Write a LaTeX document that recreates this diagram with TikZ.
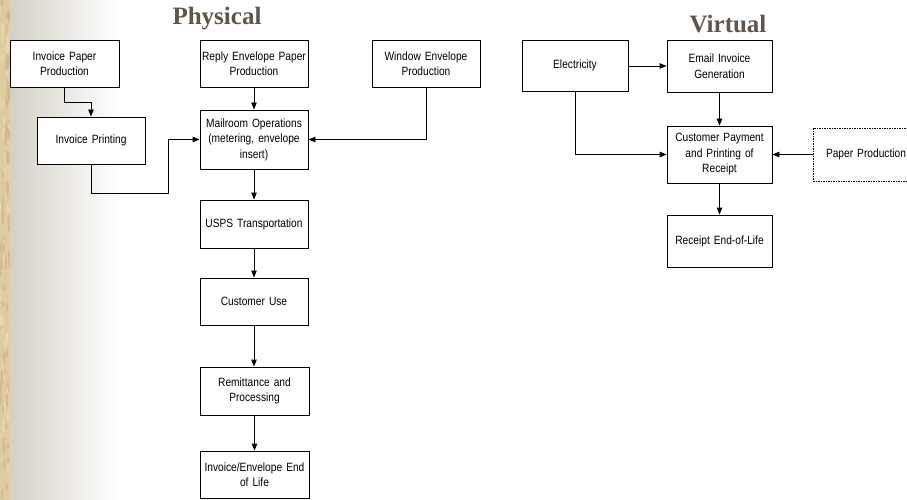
\documentclass[tikz,border=0pt]{standalone}
\usepackage{fontspec}
\setmainfont{Liberation Sans}[FakeStretch=0.85]
\newfontfamily\titlefont{Liberation Serif}
\usetikzlibrary{arrows.meta}
\definecolor{titlecol}{RGB}{94,86,75}
\definecolor{parch}{RGB}{224,202,160}
\definecolor{parchdark}{RGB}{208,182,136}
\definecolor{parchlight}{RGB}{234,216,184}
\definecolor{fadegray}{RGB}{212,208,198}
\tikzset{
  box/.style={draw=black, line width=0.9pt, fill=white, rectangle, align=center,
    inner sep=2pt, font=\fontsize{12}{15.5}\selectfont},
  dbox/.style={box, dashed, dash pattern=on 1.5pt off 1pt},
  arr/.style={draw=black, line width=0.9pt, -{Triangle[length=7pt,width=5.5pt]}},
  ttl/.style={font=\titlefont\fontsize{25}{28}\selectfont\bfseries, text=titlecol, anchor=base, inner sep=0pt}
}
\begin{document}
\begin{tikzpicture}[x=1pt,y=-1pt]
\useasboundingbox (0,0) rectangle (907,500);
% background
\fill[white] (0,0) rectangle (907,500);
\shade[left color=fadegray, right color=white] (10,0) rectangle (118,500);
\fill[parch] (0,0) rectangle (10,500);
\pgfmathsetseed{7}
\foreach \i in {1,...,120} {
  \pgfmathsetmacro{\yy}{rnd*500}
  \pgfmathsetmacro{\xx}{rnd*10}
  \pgfmathsetmacro{\ll}{2+rnd*8}
  \pgfmathsetmacro{\cc}{rnd>0.5 ? 1 : 0}
  \ifdim\cc pt>0.5pt
    \fill[parchdark, opacity=0.7] (\xx,\yy) ellipse (1.2pt and \ll pt);
  \else
    \fill[parchlight, opacity=0.7] (\xx,\yy) ellipse (1pt and \ll pt);
  \fi
}
\fill[fadegray] (10,0) rectangle (10.6,500);
% titles
\node[ttl] (tphys) at (217,25) {Physical};
\node[ttl] (tvirt) at (728,33) {Virtual};
% physical nodes
\node[box, minimum width=109pt, minimum height=47pt, text width=104pt] (ipp) at (64.5,63.5) {Invoice Paper\\Production};
\node[box, minimum width=108pt, minimum height=47pt, text width=104pt] (ip) at (91,140.5) {Invoice Printing};
\node[box, minimum width=108pt, minimum height=47pt, text width=104pt] (rep) at (254,63.5) {Reply Envelope Paper\\Production};
\node[box, minimum width=108pt, minimum height=59pt, text width=104pt] (mail) at (254,139.5) {Mailroom Operations\\(metering, envelope\\insert)};
\node[box, minimum width=108pt, minimum height=47pt, text width=104pt] (wep) at (426,63.5) {Window Envelope\\Production};
\node[box, minimum width=108pt, minimum height=48pt, text width=104pt] (usps) at (254,224) {USPS Transportation};
\node[box, minimum width=108pt, minimum height=47pt, text width=104pt] (cu) at (254,301.5) {Customer Use};
\node[box, minimum width=109pt, minimum height=48pt, text width=104pt] (rp) at (254.5,391) {Remittance and\\Processing};
\node[box, minimum width=109pt, minimum height=47pt, text width=104pt] (eol) at (254.5,474.5) {Invoice/Envelope End\\of Life};
% virtual nodes
\node[box, minimum width=106pt, minimum height=51pt, text width=100pt] (elec) at (575,65.5) {Electricity};
\node[box, minimum width=105pt, minimum height=52pt, text width=100pt] (email) at (719.5,66) {Email Invoice\\Generation};
\node[box, minimum width=105pt, minimum height=57pt, text width=100pt] (cpay) at (719.5,154.5) {Customer Payment\\and Printing of\\Receipt};
\node[dbox, minimum width=106pt, minimum height=53pt, text width=100pt] (pp) at (866,154.5) {Paper Production};
\node[box, minimum width=105pt, minimum height=52pt, text width=100pt] (rel) at (719.5,241) {Receipt End-of-Life};
% connectors physical
\coordinate (k1) at (64.5,102);
\coordinate (k2) at (168,193);
\draw[arr] (ipp.south) -- (k1) -| (ip.north);
\draw[arr] (ip.south) |- (k2) |- (mail.west);
\draw[arr] (rep.south) -- (mail.north);
\draw[arr] (wep.south) |- (mail.east);
\draw[arr] (mail.south) -- (usps.north);
\draw[arr] (usps.south) -- (cu.north);
\draw[arr] (cu.south) -- (cu.south |- rp.north);
\draw[arr] (rp.south) -- (rp.south |- eol.north);
% connectors virtual
\draw[arr] (elec.east |- email.west) -- (email.west);
\draw[arr] (email.south) -- (cpay.north);
\draw[arr] (elec.south) |- (cpay.west);
\draw[arr] (pp.west) -- (cpay.east);
\draw[arr] (cpay.south) -- (rel.north);
\end{tikzpicture}
\end{document}
